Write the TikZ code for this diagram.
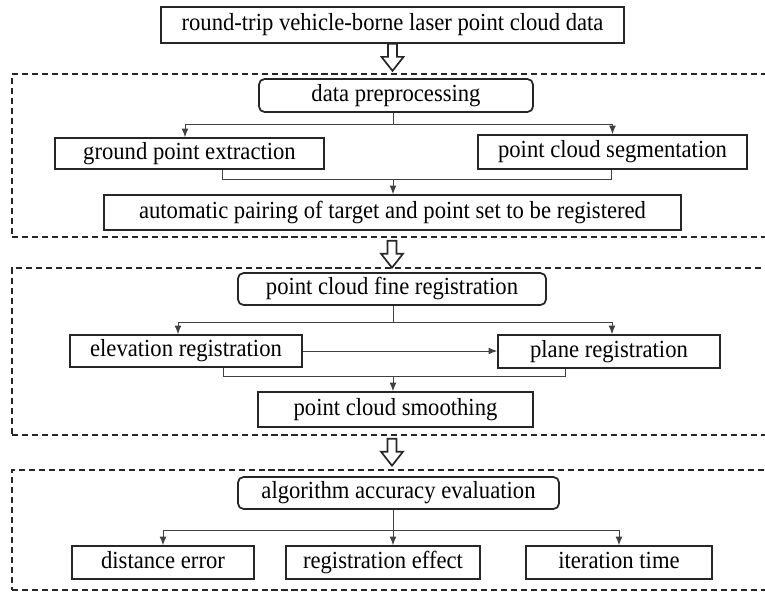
\documentclass[tikz,border=0pt]{standalone}
\usepackage{fontspec}
\setmainfont{Liberation Serif}[FakeStretch=0.92]
\usetikzlibrary{arrows.meta}

\begin{document}
\begin{tikzpicture}
  [x=0.025cm, y=-0.025cm, font=\fontsize{17.5}{20}\selectfont,
   block/.style={rectangle,draw=black!85,line width=1.25pt,inner sep=0pt,minimum height=0.825cm,text height=12pt,text depth=4pt},
   roundblock/.style={block,rounded corners=4pt},
   panel/.style={rectangle,draw=black!85,line width=1.2pt,dash pattern=on 4.3pt off 2.8pt,inner sep=0pt,minimum width=19cm},
   link/.style={draw=black!75,line width=0.65pt,>={Latex[length=6pt,width=4.8pt]}},
   hollowarrow/.pic={\draw[line width=1.2pt,draw=black!85] (-4.5,0) -- (-4.5,13) -- (-11,13) -- (0,27) -- (11,13) -- (4.5,13) -- (4.5,0) -- cycle;}]
  \clip (0,0) rectangle (765,593);
  \coordinate (axis) at (393,0);

  % input data
  \node[block,minimum width=11.575cm,minimum height=0.9cm] (input) at (392.5,25) {round-trip vehicle-borne laser point cloud data};
  \pic at (input.south) {hollowarrow};

  % preprocessing and pairing
  \node[panel,minimum height=4.075cm] (stage1) at (392,155.5) {};
  \node[roundblock,minimum width=6.85cm] (preproc) at (396,95.5) {data preprocessing};
  \node[block,minimum width=6.725cm,minimum height=0.775cm] (ground) at (189.5,153.5) {ground point extraction};
  \node[block,minimum width=6.725cm,minimum height=0.85cm] (segment) at (612.5,152) {point cloud segmentation};
  \node[block,minimum width=14.425cm,minimum height=0.875cm] (pairing) at (392.5,212.5) {automatic pairing of target and point set to be registered};
  \draw[link] (preproc.south -| axis) -- ++(0,12) coordinate (split1);
  \draw[link,->] (split1) -| (185,0 |- ground.north);
  \draw[link,->] (split1) -| (segment.north);
  \draw[link] (222,0 |- ground.south) -- ++(0,10) coordinate (join1) -| (611,0 |- segment.south);
  \draw[link,->] (join1 -| axis) -- (pairing.north -| axis);
  \pic[yshift=-2pt] at (stage1.south) {hollowarrow};

  % fine registration
  \node[panel,minimum height=4.175cm] (stage2) at (392,351.5) {};
  \node[roundblock,minimum width=7.7cm,minimum height=0.8cm] (fine) at (392,289) {point cloud fine registration};
  \node[block,minimum width=5.8cm,minimum height=0.8cm] (elevation) at (186,351) {elevation registration};
  \node[block,minimum width=5.55cm] (plane) at (609,351.5) {plane registration};
  \node[block,minimum width=6.875cm,minimum height=0.875cm] (smoothing) at (395.5,409.5) {point cloud smoothing};
  \draw[link] (fine.south -| axis) -- ++(0,17) coordinate (split2);
  \draw[link,->] (split2) -| (178,0 |- elevation.north);
  \draw[link,->] (split2) -| (612,0 |- plane.north);
  \draw[link,->] (elevation.east) -- (elevation.east -| plane.west);
  \draw[link] (223,0 |- elevation.south) -- ++(0,9) coordinate (join2) -| (565,0 |- plane.south);
  \draw[link,->] (join2 -| axis) -- (smoothing.north -| axis);
  \pic[yshift=-2pt] at (stage2.south) {hollowarrow};

  % evaluation
  \node[panel,minimum height=3cm] (stage3) at (392,530) {};
  \node[roundblock,minimum width=8.025cm,minimum height=0.8cm] (evaluation) at (398.5,493) {algorithm accuracy evaluation};
  \node[block,minimum width=4.55cm] (distance) at (163,562.5) {distance error};
  \node[block,minimum width=4.85cm] (effect) at (383,562.5) {registration effect};
  \node[block,minimum width=4.65cm] (itertime) at (619,562.5) {iteration time};
  \draw[link] (evaluation.south -| axis) -- ++(0,21) coordinate (split3);
  \draw[link,->] (split3) -| (distance.north);
  \draw[link,->] (split3) -| (itertime.north);
  \draw[link,->] (split3) -- (effect.north -| axis);

\end{tikzpicture}
\end{document}
